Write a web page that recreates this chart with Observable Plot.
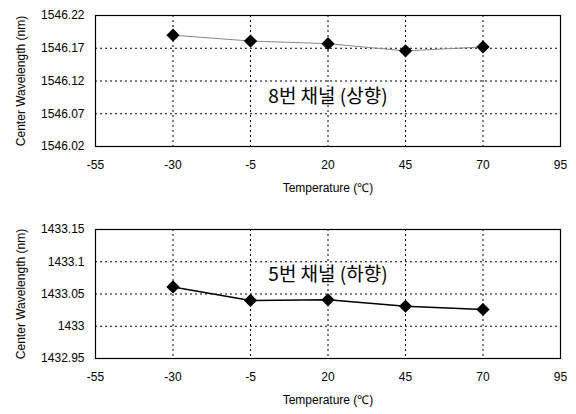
<!DOCTYPE html>
<html><head><meta charset="utf-8">
<script src="https://cdn.jsdelivr.net/npm/d3@7"></script>
<script src="https://cdn.jsdelivr.net/npm/@observablehq/plot@0.6"></script>
<style>
body{margin:0;background:#fff;}
#c{width:576px;}
svg{display:block;}
</style></head>
<body><div id="c"></div>
<script>
const temps = [-30, -5, 20, 45, 70];
const ch8 = [1546.190, 1546.181, 1546.177, 1546.166, 1546.172];
const ch5 = [1433.061, 1433.040, 1433.041, 1433.031, 1433.026];
const xTicks = [-55, -30, -5, 20, 45, 70, 95];
const yTicks8 = [1546.02, 1546.07, 1546.12, 1546.17, 1546.22];
const yTicks5 = [1432.95, 1433, 1433.05, 1433.1, 1433.15];
const label8 = "8번 채널 (상향)";
const label5 = "5번 채널 (하향)";
const xLabel = "Temperature (℃)";
const yLabel = "Center Wavelength (nm)";

const fmt = d3.format(".2~f");

function chart(vals, yTicks, label, labelY, lineColor, lineWidth, mt, mb) {
  const data = temps.map((t, i) => ({t, v: vals[i]}));
  const inner = yTicks.slice(1, -1);
  const innerX = xTicks.slice(1, -1);
  return Plot.plot({
    width: 576, height: 207,
    marginLeft: 95, marginRight: 16, marginTop: mt, marginBottom: mb,
    style: {fontFamily: "'Liberation Sans', Arial, sans-serif", fontSize: "12px", color: "#000", background: "#fff"},
    x: {domain: [-55, 95]},
    y: {domain: [yTicks[0], yTicks[yTicks.length - 1]]},
    marks: [
      Plot.ruleY(inner, {stroke: "#000", strokeWidth: 1, strokeDasharray: "2,3"}),
      Plot.ruleX(innerX, {stroke: "#000", strokeWidth: 1, strokeDasharray: "2,3"}),
      Plot.frame({stroke: "#000", strokeWidth: 1.2}),
      Plot.axisX({ticks: xTicks, tickSize: 0, tickPadding: 14, tickFormat: d => String(d), label: xLabel, labelAnchor: "center", labelArrow: "none", labelOffset: 45, fontSize: 12}),
      Plot.axisY({ticks: yTicks, tickSize: 0, tickPadding: 11, tickFormat: fmt, label: yLabel, labelAnchor: "center", labelArrow: "none", labelOffset: 79, fontSize: 12}),
      Plot.line(data, {x: "t", y: "v", stroke: lineColor, strokeWidth: lineWidth}),
      Plot.dot(data, {x: "t", y: "v", symbol: "diamond2", r: 5, fill: "#000", stroke: "#000"}),
      Plot.text([label], {x: 20, y: labelY, text: d => d, fontSize: 19, fill: "#000", fontFamily: "'Noto Sans CJK KR', sans-serif"})
    ]
  });
}

const c = document.getElementById("c");
c.append(chart(ch8, yTicks8, label8, 1546.095, "#888", 1, 15, 61));
c.append(chart(ch5, yTicks5, label5, 1433.08, "#000", 1.5, 22, 56));
</script>
</body></html>
